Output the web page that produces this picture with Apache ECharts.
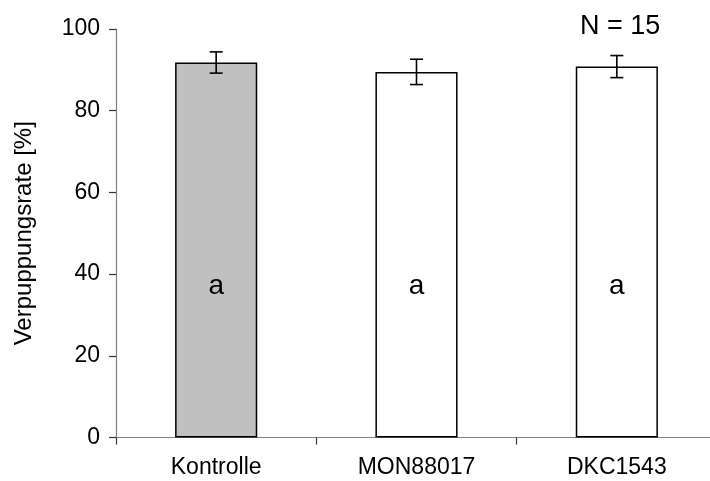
<!DOCTYPE html>
<html>
<head>
<meta charset="utf-8">
<script src="https://cdn.jsdelivr.net/npm/echarts@6/dist/echarts.min.js"></script>
<style>
  html, body { margin: 0; padding: 0; background: #fff; overflow: hidden; width: 710px; height: 481px; }
  /* canvas is a little wider than the window: the category axis runs past the right edge */
  #chart { width: 720px; height: 481px; }
</style>
</head>
<body>
<div id="chart"></div>
<script>
// Pupation rate per treatment (mean ± error)
const categories = ['Kontrolle', 'MON88017', 'DKC1543'];
const meanValues = [91.8, 89.5, 90.8];
const errorValues = [2.6, 3.1, 2.7];
const groupLetters = ['a', 'a', 'a'];
const barFills = ['#c0c0c0', '#ffffff', '#ffffff'];
const yTicks = [0, 20, 40, 60, 80, 100];
const sampleNote = 'N = 15';

const FONT = 'Liberation Sans, Arial, sans-serif';
const LETTER_LEVEL = 37; // height (in %) where the significance letters sit

const chart = echarts.init(document.getElementById('chart'), null, { renderer: 'canvas' });

const option = {
  animation: false,
  backgroundColor: '#ffffff',
  grid: { left: 116, right: 3, top: 29, bottom: 43.5, containLabel: false },
  xAxis: {
    type: 'category',
    data: categories,
    axisLine: { show: true, lineStyle: { color: '#808080', width: 1.2 } },
    axisTick: { show: true, length: 7, alignWithLabel: false, lineStyle: { color: '#333', width: 1.2 } },
    axisLabel: { color: '#000', fontFamily: FONT, fontSize: 23, margin: 19 },
    splitLine: { show: false }
  },
  yAxis: {
    type: 'value',
    min: yTicks[0],
    max: yTicks[yTicks.length - 1],
    interval: yTicks[1] - yTicks[0],
    name: 'Verpuppungsrate [%]',
    nameLocation: 'middle',
    nameGap: 80,
    nameTextStyle: { color: '#000', fontFamily: FONT, fontSize: 24 },
    axisLine: { show: true, lineStyle: { color: '#808080', width: 1.2 } },
    axisTick: { show: true, length: 7, lineStyle: { color: '#333', width: 1.2 } },
    axisLabel: { color: '#000', fontFamily: FONT, fontSize: 23, margin: 16 },
    splitLine: { show: false }
  },
  series: [
    {
      type: 'bar',
      barWidth: '41%',
      data: meanValues.map((v, i) => ({
        value: v,
        itemStyle: { color: barFills[i], borderColor: '#000', borderWidth: 1.5 }
      })),
      z: 2
    },
    {
      // error bars with caps
      type: 'custom',
      z: 3,
      data: meanValues.map((v, i) => [i, v, errorValues[i]]),
      renderItem: function (params, api) {
        const i = api.value(0);
        const m = api.value(1);
        const e = api.value(2);
        const top = api.coord([i, m + e]);
        const bot = api.coord([i, m - e]);
        const hw = 6.5;
        const style = { stroke: '#000', lineWidth: 1.6, fill: null };
        return {
          type: 'group',
          children: [
            { type: 'line', shape: { x1: top[0], y1: top[1], x2: bot[0], y2: bot[1] }, style: style },
            { type: 'line', shape: { x1: top[0] - hw, y1: top[1], x2: top[0] + hw, y2: top[1] }, style: style },
            { type: 'line', shape: { x1: bot[0] - hw, y1: bot[1], x2: bot[0] + hw, y2: bot[1] }, style: style }
          ]
        };
      }
    },
    {
      // significance letters inside the bars
      type: 'custom',
      z: 4,
      data: groupLetters.map((t, i) => [i, LETTER_LEVEL]),
      renderItem: function (params, api) {
        const p = api.coord([api.value(0), api.value(1)]);
        return {
          type: 'text',
          style: {
            x: p[0], y: p[1],
            text: groupLetters[params.dataIndex],
            fill: '#000',
            font: '28px ' + FONT,
            textAlign: 'center',
            textVerticalAlign: 'middle'
          }
        };
      }
    }
  ],
  graphic: [
    {
      type: 'text',
      left: 580,
      top: 13,
      style: { text: sampleNote, fill: '#000', font: '27px ' + FONT }
    }
  ]
};

chart.setOption(option);
</script>
</body>
</html>
